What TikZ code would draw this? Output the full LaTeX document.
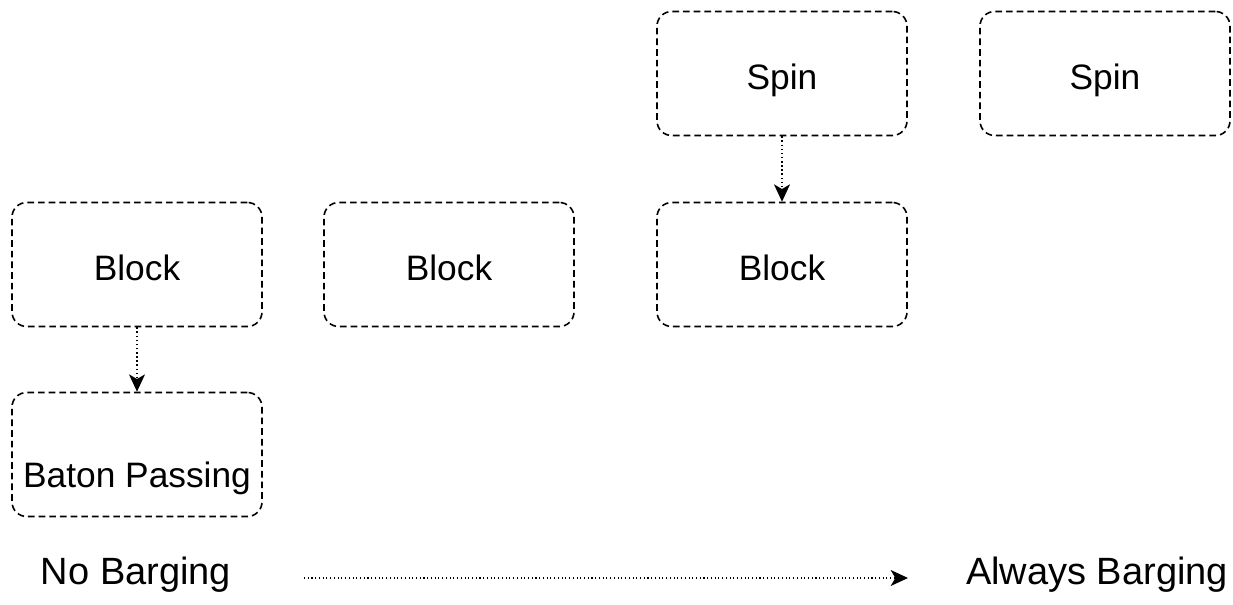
\documentclass[tikz,border=0pt]{standalone}
\usepackage{fontspec}
\setmainfont{Liberation Sans}
\usetikzlibrary{arrows.meta}

\tikzset{
  lockbox/.style={draw, line width=1.2pt, dash pattern=on 5pt off 3pt,
    rounded corners=11pt, minimum width=187.5pt, minimum height=93pt,
    inner sep=0pt, text height=24pt, text depth=0pt,
    font=\fontsize{26.5}{31}\selectfont},
  handoff/.style={dotted, line width=1.1pt, -{Stealth[length=13pt,width=12pt,inset=3.5pt]}},
  endlabel/.style={inner sep=0pt, text height=21pt, text depth=0pt,
    font=\fontsize{28.5}{32}\selectfont}
}

\begin{document}
\begin{tikzpicture}[x=0.75pt, y=-0.75pt]
  \useasboundingbox (0,0) rectangle (1233,605);

  % the lock variants, one column each
  \node[lockbox] (block1) at (137,264.5) {Block};
  \node[lockbox, text height=49.5pt] (baton) at (137,454.5) {Baton Passing};
  \node[lockbox] (block2) at (449,264.5) {Block};
  \node[lockbox] (spin1) at (782,73.5) {Spin};
  \node[lockbox] (block3) at (782,264.5) {Block};
  \node[lockbox] (spin2) at (1105,73.5) {Spin};

  \draw[handoff] (block1) -- (baton);
  \draw[handoff] (spin1) -- (block3);

  % barging scale
  \node[endlabel] (nobarge) at (136,571) {No Barging};
  \node[endlabel] (alwaysbarge) at (1097,571) {Always Barging};
  \coordinate (scalestart) at (304,578);
  \coordinate (scaleend) at (908,578);
  \draw[handoff, line width=0.8pt] (scalestart) -- (scaleend);
\end{tikzpicture}
\end{document}
